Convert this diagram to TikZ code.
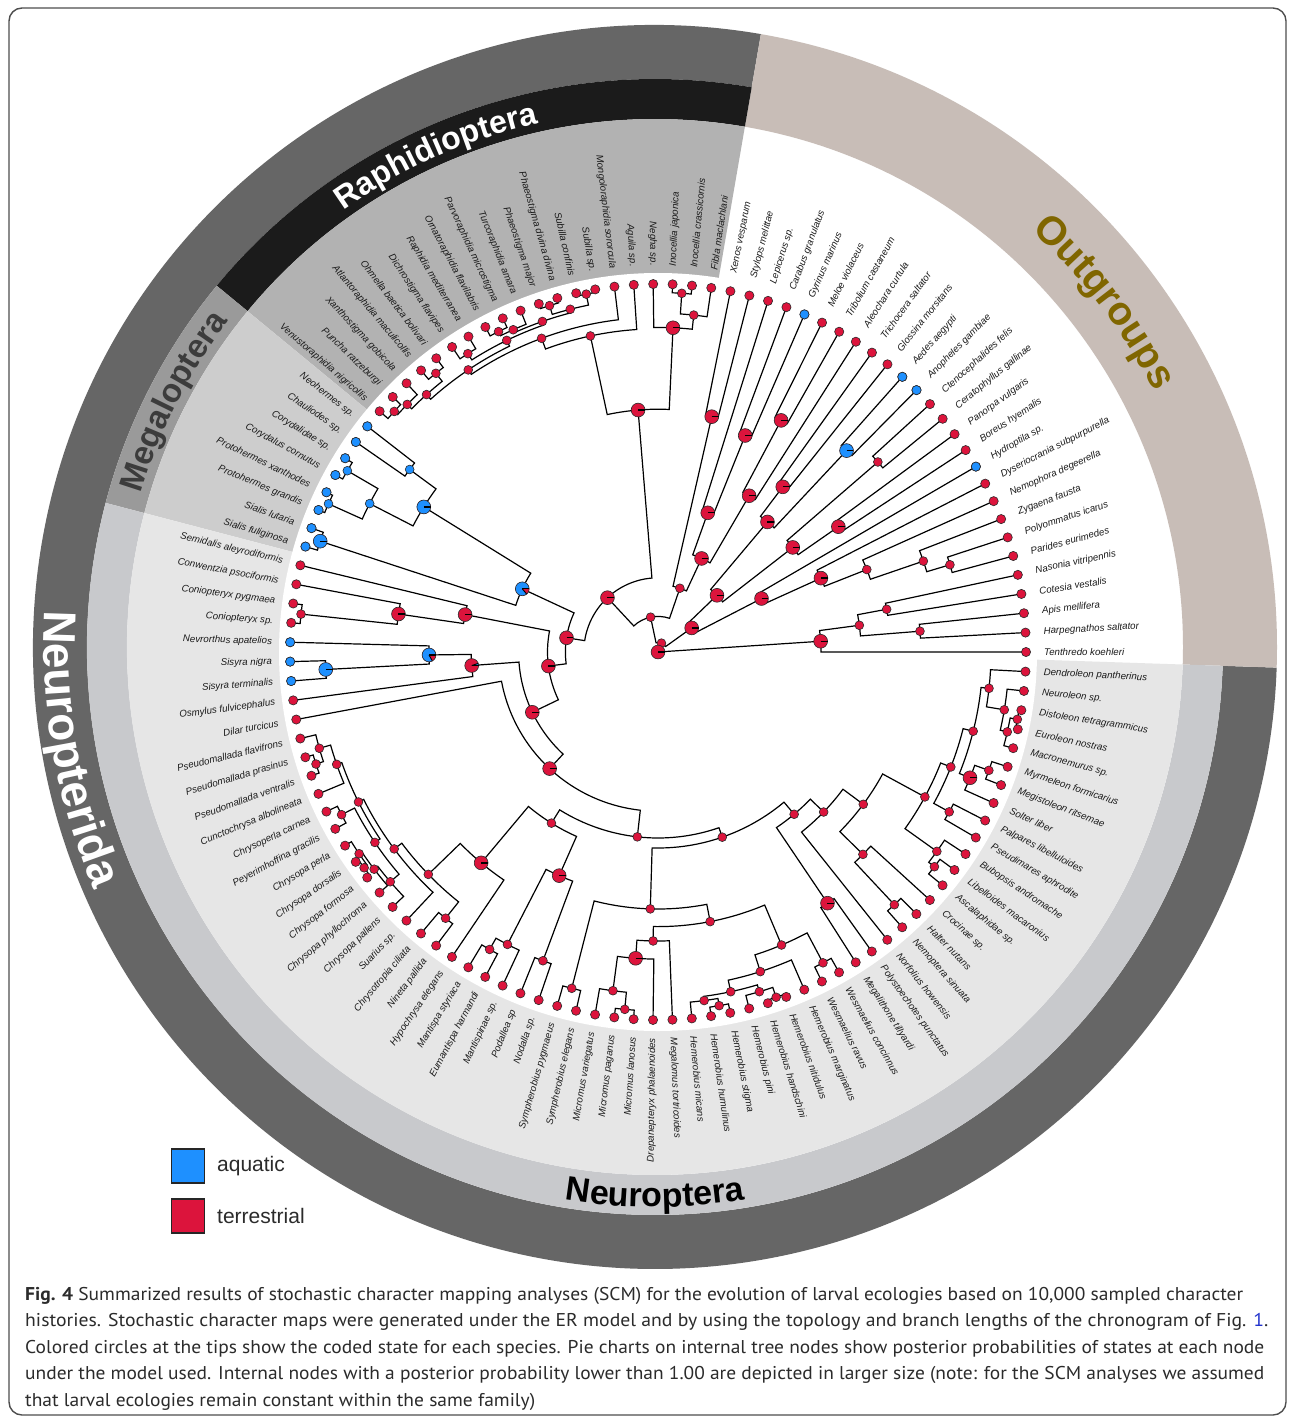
\documentclass[tikz,border=0pt]{standalone}
\usepackage{fontspec}
\usepackage{graphicx}
\setmainfont{Liberation Sans}
\newfontfamily\capfont{PT Sans}
\usetikzlibrary{decorations.text}
\definecolor{aq}{HTML}{1E90FF}
\definecolor{te}{HTML}{DC143C}
\definecolor{dotline}{HTML}{2A2A2A}
\definecolor{ringdark}{HTML}{666666}
\definecolor{ringblack}{HTML}{1B1B1B}
\definecolor{ringmega}{HTML}{9A9A9A}
\definecolor{ringneur}{HTML}{C8C9CC}
\definecolor{bgraph}{HTML}{B2B2B2}
\definecolor{bgmega}{HTML}{CDCDCD}
\definecolor{bgneur}{HTML}{E6E6E6}
\definecolor{ogtan}{HTML}{C8BDB7}
\definecolor{ogtext}{HTML}{806600}
\definecolor{megatext}{HTML}{3C3C3C}
\definecolor{labtxt}{HTML}{1A1A1A}
\definecolor{captxt}{HTML}{2B2B2B}
\definecolor{linkblue}{HTML}{2233CC}
\definecolor{framec}{HTML}{4D4D4D}

\gdef\dotlist{}
\newcommand\setnode[3]{\expandafter\xdef\csname na@#1\endcsname{#2}\expandafter\xdef\csname nr@#1\endcsname{#3}}
\newcommand\piedot[4]{%
  \pgfmathsetmacro\px{#2*cos(#1)}%
  \pgfmathsetmacro\py{#2*sin(#1)}%
  \if s#3%
    \ifdim #4pt>0.5pt\def\pc{aq}\else\def\pc{te}\fi
    \filldraw[fill=\pc,draw=dotline,line width=0.6pt] (\px,\py) circle[radius=4.4];%
  \else
    \fill[te] (\px,\py) circle[radius=6.9];%
    \ifdim #4pt>0.001pt
      \pgfmathsetmacro\pe{#4*360}%
      \fill[aq] (\px,\py) -- ++(0:6.9) arc[start angle=0,end angle=\pe,radius=6.9] -- cycle;%
      \ifdim #4pt<0.999pt \draw[black,line width=0.9pt] (\px,\py) -- ++(\pe:6.9);\fi
    \fi
    \draw[dotline,line width=0.6pt] (\px,\py) circle[radius=6.9];%
    \draw[black,line width=1.3pt] (\px,\py) -- ++(0:6.9);%
  \fi}
\newcommand\tipdot[2]{\filldraw[fill=#2,draw=dotline,line width=0.6pt] (#1:368) circle[radius=4.6];}
\newcommand\Nd[6]{%
  \edef\aA{\csname na@#3\endcsname}\edef\rA{\csname nr@#3\endcsname}%
  \edef\aB{\csname na@#4\endcsname}\edef\rB{\csname nr@#4\endcsname}%
  \pgfmathsetmacro\aM{(\aA+\aB)/2}%
  \draw[br] (\aA:\rA) -- (\aA:#2) arc[start angle=\aA,end angle=\aB,radius=#2] -- (\aB:\rB);%
  \setnode{#1}{\aM}{#2}%
  \xdef\dotlist{\unexpanded\expandafter{\dotlist}\noexpand\piedot{\aM}{#2}{#5}{#6}}}
\newcommand\Tip[2]{\pgfmathsetmacro\ta{#1*3.025}\setnode{#1}{\ta}{368}%
  \xdef\dotlist{\unexpanded\expandafter{\dotlist}\noexpand\tipdot{\ta}{#2}}}
\newcommand\Lb[2]{\pgfmathsetmacro\la{#1*3.025}\pgfmathtruncatemacro\lf{(\la>90)&&(\la<270)}%
  \ifnum\lf=1 \pgfmathsetmacro\lr{\la-180}\node[lab,anchor=east,rotate=\lr] (lab#1) at (\la:386) {#2};%
  \else \node[lab,anchor=west,rotate=\la] (lab#1) at (\la:386) {#2};\fi}
\newcommand\annsec[5]{\fill[#1] (#4:#3) arc[start angle=#4,end angle=#5,radius=#3] -- (#5:#2) arc[start angle=#5,end angle=#4,radius=#2] -- cycle;}

\begin{document}
\begin{tikzpicture}[x=1pt,y=1pt,
  br/.style={line width=1.2pt,line cap=rect,line join=miter},
  lab/.style={font=\fontsize{9.7}{10}\selectfont\itshape,text=labtxt,inner sep=0pt}]
\useasboundingbox (0,0) rectangle (1295,-1420);
\fill[white] (0,0) rectangle (1295,-1420);
\draw[framec,line width=1.4pt,rounded corners=13pt] (9,-8) rectangle (1286,-1415);

% rings and clade backgrounds
\begin{scope}[shift={(655,-647)}]
  \annsec{ringdark}{568}{622}{80.2}{358.1}
  \annsec{ogtan}{528}{622}{-1.9}{80.2}
  \annsec{ringblack}{528}{568}{80.2}{140.5}
  \annsec{ringmega}{528}{568}{140.5}{165.3}
  \annsec{ringneur}{528}{568}{165.3}{358.1}
  \annsec{bgraph}{5}{528}{80.2}{140.5}
  \annsec{bgmega}{5}{528}{140.5}{165.3}
  \annsec{bgneur}{5}{528}{165.3}{358.1}
  \path[decorate,decoration={text along path,text align=center,text color=white,
    text={|\fontsize{46}{46}\selectfont\bfseries|Neuropterida}}]
    (160:611) arc[start angle=160,end angle=220,radius=611];
  \path[decorate,decoration={text along path,text align=center,text color=black,
    text={|\fontsize{34}{34}\selectfont\bfseries|Neuroptera}}]
    (240:560) arc[start angle=240,end angle=300,radius=560];
  \path[decorate,decoration={text along path,text align=center,text color=megatext,
    text={|\fontsize{33}{33}\selectfont\bfseries|Megaloptera}}]
    (183:536.5) arc[start angle=183,end angle=123,radius=536.5];
  \path[decorate,decoration={text along path,text align=center,text color=white,
    text={|\fontsize{32}{32}\selectfont\bfseries|Raphidioptera}}]
    (150:536.5) arc[start angle=150,end angle=78,radius=536.5];
  \path[decorate,decoration={text along path,text align=center,text color=ogtext,
    text={|\fontsize{40}{40}\selectfont\bfseries|Outgroups}}]
    (72:561) arc[start angle=72,end angle=3,radius=561];
\end{scope}
\fill[white] (658,-652) circle[radius=379];

% tree
\begin{scope}[shift={(658,-652)}]
\foreach \i in {0,...,118}{\Tip{\i}{te}}
\foreach \i in {10,15,16,22,47,48,49,50,51,52,53,54,59,60,61}{\Tip{\i}{aq}}
% outgroups
\Nd{h12}{262.8}{1}{2}{s}{0}
\Nd{h34}{232.6}{3}{4}{s}{0}
\Nd{h14}{203.1}{h12}{h34}{s}{0}
\Nd{hym}{163}{0}{h14}{b}{0}
\Nd{l56}{304.7}{5}{6}{s}{0}
\Nd{l7}{280.5}{l56}{7}{s}{0}
\Nd{l8}{224.5}{l7}{8}{s}{0}
\Nd{lep}{178.9}{l8}{9}{b}{0}
\Nd{amph}{116.5}{lep}{10}{b}{0}
\Nd{mec}{219.6}{11}{12}{b}{0}
\Nd{flea}{290.6}{13}{14}{s}{0}
\Nd{mecsi}{170.6}{mec}{flea}{b}{0}
\Nd{mosq}{275.9}{15}{16}{b}{1}
\Nd{dgt}{207}{17}{18}{b}{0}
\Nd{dip}{170}{mosq}{dgt}{b}{0}
\Nd{antl}{81.8}{mecsi}{dip}{b}{0}
\Nd{mecop}{41.4}{amph}{antl}{b}{0}
\Nd{ctm}{262.3}{20}{21}{b}{0}
\Nd{poly}{180.9}{19}{ctm}{b}{0}
\Nd{adeph}{233.4}{22}{23}{b}{0}
\Nd{myxad}{147.8}{adeph}{24}{b}{0}
\Nd{col}{103.2}{poly}{myxad}{b}{0}
\Nd{strep}{241.4}{25}{26}{b}{0}
\Nd{colp}{67.4}{col}{strep}{s}{0}
% Raphidioptera
\Nd{i2829}{359.5}{28}{29}{s}{0}
\Nd{i27}{338.8}{27}{i2829}{s}{0}
\Nd{ino}{324.6}{i27}{30}{b}{0}
\Nd{r3334}{365}{33}{34}{s}{0}
\Nd{r3536}{363}{35}{36}{s}{0}
\Nd{r3336}{353.8}{r3334}{r3536}{s}{0}
\Nd{r3839}{357.9}{38}{39}{s}{0}
\Nd{r3739}{353.3}{37}{r3839}{s}{0}
\Nd{rZ}{350.2}{r3336}{r3739}{s}{0}
\Nd{r4041}{353.8}{40}{41}{s}{0}
\Nd{rW}{346.4}{rZ}{r4041}{s}{0}
\Nd{r4243}{356.4}{42}{43}{s}{0}
\Nd{r4546}{357}{45}{46}{s}{0}
\Nd{r4446}{352.4}{44}{r4546}{s}{0}
\Nd{r4246}{346.2}{r4243}{r4446}{s}{0}
\Nd{rY}{340}{rW}{r4246}{s}{0}
\Nd{rX}{334.6}{32}{rY}{s}{0}
\Nd{raphid}{323.2}{31}{rX}{s}{0}
\Nd{raph}{242.8}{ino}{raphid}{b}{0}
% Megaloptera
\Nd{m4748}{308.2}{47}{48}{s}{1}
\Nd{m4950}{359.7}{49}{50}{s}{1}
\Nd{m5152}{361.3}{51}{52}{s}{1}
\Nd{m4952}{324.3}{m4950}{m5152}{s}{1}
\Nd{cory}{275.5}{m4748}{m4952}{b}{1}
\Nd{sial}{355.5}{53}{54}{b}{1}
\Nd{mega}{149.7}{cory}{sial}{b}{0.86}
% Neuroptera
\Nd{c5758}{359}{57}{58}{s}{0}
\Nd{nb}{262.3}{56}{c5758}{b}{0}
\Nd{na}{196.5}{55}{nb}{b}{0}
\Nd{s6061}{332.7}{60}{61}{b}{1}
\Nd{nf}{229}{59}{s6061}{b}{0.83}
\Nd{ne}{186.8}{nf}{62}{b}{0.05}
\Nd{p6566}{359.9}{65}{66}{s}{0}
\Nd{p64}{352.1}{64}{p6566}{s}{0}
\Nd{p67}{340.4}{p64}{67}{s}{0}
\Nd{c6869}{355.8}{68}{69}{s}{0}
\Nd{g7172}{364.6}{71}{72}{s}{0}
\Nd{g70}{360.6}{70}{g7172}{s}{0}
\Nd{g73}{357.4}{g70}{73}{s}{0}
\Nd{g74}{352.8}{g73}{74}{s}{0}
\Nd{cC}{341.2}{c6869}{g74}{s}{0}
\Nd{cB}{335}{p67}{cC}{s}{0}
\Nd{cA}{329.2}{cB}{75}{s}{0}
\Nd{c7677}{340.6}{76}{77}{s}{0}
\Nd{cA2}{319.7}{cA}{c7677}{s}{0}
\Nd{chrys}{275.2}{cA2}{78}{b}{0}
\Nd{m7980}{341.8}{79}{80}{s}{0}
\Nd{m81}{328.9}{m7980}{81}{s}{0}
\Nd{b8283}{329.5}{82}{83}{s}{0}
\Nd{mant}{244.5}{m81}{b8283}{b}{0}
\Nd{chma}{201.6}{chrys}{mant}{s}{0}
\Nd{s8485}{347.2}{84}{85}{s}{0}
\Nd{h8788}{358.9}{87}{88}{s}{0}
\Nd{hS}{341.7}{86}{h8788}{s}{0}
\Nd{hR}{307.1}{hS}{89}{b}{0}
\Nd{hQ}{289}{hR}{90}{s}{0}
\Nd{h9293}{358.9}{92}{93}{s}{0}
\Nd{h91}{351.6}{91}{h9293}{s}{0}
\Nd{h9596}{364.9}{95}{96}{s}{0}
\Nd{h94}{354.5}{94}{h9596}{s}{0}
\Nd{hW}{347.4}{h91}{h94}{s}{0}
\Nd{hU}{335.6}{hW}{97}{s}{0}
\Nd{w9899}{351.9}{98}{99}{s}{0}
\Nd{hT}{318}{hU}{w9899}{s}{0}
\Nd{hP}{274.6}{hQ}{hT}{s}{0}
\Nd{hem}{257}{s8485}{hP}{s}{0}
\Nd{ith}{303}{100}{101}{b}{0}
\Nd{n0304}{346}{103}{104}{s}{0}
\Nd{nemop}{288}{n0304}{105}{s}{0}
\Nd{a0607}{350}{106}{107}{s}{0}
\Nd{asc}{342.8}{a0607}{108}{s}{0}
\Nd{zc}{332.2}{109}{110}{s}{0}
\Nd{z1213}{351.4}{112}{113}{s}{0}
\Nd{ze}{336.4}{111}{z1213}{b}{0}
\Nd{z1516}{365.6}{115}{116}{s}{0}
\Nd{z14}{358.3}{114}{z1516}{s}{0}
\Nd{z17}{351.1}{z14}{117}{s}{0}
\Nd{zf}{333}{z17}{118}{s}{0}
\Nd{zd}{325}{ze}{zf}{s}{0}
\Nd{zb}{314.6}{zc}{zd}{s}{0}
\Nd{zz}{303.7}{asc}{zb}{s}{0}
\Nd{myrm}{255.6}{nemop}{zz}{s}{0}
\Nd{nymph}{230.3}{102}{myrm}{s}{0}
\Nd{ithm}{211.8}{ith}{nymph}{s}{0}
\Nd{nn}{196}{hem}{ithm}{s}{0}
\Nd{nm}{186}{chma}{nn}{s}{0}
\Nd{ng}{159.2}{63}{nm}{b}{0}
\Nd{nd}{139.4}{ne}{ng}{b}{0}
\Nd{nc}{110.5}{na}{nd}{b}{0}
\Nd{nh}{92.6}{mega}{nc}{b}{0}
\Nd{ni}{74.2}{raph}{nh}{b}{0}
\Nd{nj}{35.6}{colp}{ni}{s}{0}
\Nd{nl}{9.5}{mecop}{nj}{s}{0}
% root
\draw[br] (0,0) -- (\csname na@hym\endcsname:\csname nr@hym\endcsname);
\draw[br] (0,0) -- (\csname na@nl\endcsname:\csname nr@nl\endcsname);
\dotlist
\piedot{0}{0}{b}{0}

% labels
\Lb{0}{Tenthredo koehleri}
\Lb{1}{Harpegnathos saltator}
\Lb{2}{Apis mellifera}
\Lb{3}{Cotesia vestalis}
\Lb{4}{Nasonia vitripennis}
\Lb{5}{Parides eurimedes}
\Lb{6}{Polyommatus icarus}
\Lb{7}{Zygaena fausta}
\Lb{8}{Nemophora degeerella}
\Lb{9}{Dyseriocrania subpurpurella}
\Lb{10}{Hydroptila sp.}
\Lb{11}{Boreus hyemalis}
\Lb{12}{Panorpa vulgaris}
\Lb{13}{Ceratophyllus gallinae}
\Lb{14}{Ctenocephalides felis}
\Lb{15}{Anopheles gambiae}
\Lb{16}{Aedes aegypti}
\Lb{17}{Glossina morsitans}
\Lb{18}{Trichocera saltator}
\Lb{19}{Aleochara curtula}
\Lb{20}{Tribolium castaneum}
\Lb{21}{Meloe violaceus}
\Lb{22}{Gyrinus marinus}
\Lb{23}{Carabus granulatus}
\Lb{24}{Lepicerus sp.}
\Lb{25}{Stylops melittae}
\Lb{26}{Xenos vesparum}
\Lb{27}{Fibla maclachlani}
\Lb{28}{Inocellia crassicornis}
\Lb{29}{Inocellia japonica}
\Lb{30}{Negha sp.}
\Lb{31}{Aguila sp.}
\Lb{32}{Mongoloraphidia sororcula}
\Lb{33}{Subilla sp.}
\Lb{34}{Subilla confinis}
\Lb{35}{Phaeostigma divina divina}
\Lb{36}{Phaeostigma major}
\Lb{37}{Turcoraphidia amara}
\Lb{38}{Parvoraphidia microstigma}
\Lb{39}{Ornatoraphidia flavilabris}
\Lb{40}{Raphidia mediterranea}
\Lb{41}{Dichrostigma flavipes}
\Lb{42}{Ohmella baetica bolivari}
\Lb{43}{Atlantoraphidia maculicollis}
\Lb{44}{Xanthostigma gobicola}
\Lb{45}{Puncha ratzeburgi}
\Lb{46}{Venustoraphidia nigricollis}
\Lb{47}{Neohermes sp.}
\Lb{48}{Chauliodes sp.}
\Lb{49}{Corydalidae sp.}
\Lb{50}{Corydalus cornutus}
\Lb{51}{Protohermes xanthodes}
\Lb{52}{Protohermes grandis}
\Lb{53}{Sialis lutaria}
\Lb{54}{Sialis fuliginosa}
\Lb{55}{Semidalis aleyrodiformis}
\Lb{56}{Conwentzia psociformis}
\Lb{57}{Coniopteryx pygmaea}
\Lb{58}{Coniopteryx sp.}
\Lb{59}{Nevrorthus apatelios}
\Lb{60}{Sisyra nigra}
\Lb{61}{Sisyra terminalis}
\Lb{62}{Osmylus fulvicephalus}
\Lb{63}{Dilar turcicus}
\Lb{64}{Pseudomallada flavifrons}
\Lb{65}{Pseudomallada prasinus}
\Lb{66}{Pseudomallada ventralis}
\Lb{67}{Cunctochrysa albolineata}
\Lb{68}{Chrysoperla carnea}
\Lb{69}{Peyerimhoffina gracilis}
\Lb{70}{Chrysopa perla}
\Lb{71}{Chrysopa dorsalis}
\Lb{72}{Chrysopa formosa}
\Lb{73}{Chrysopa phyllochroma}
\Lb{74}{Chrysopa pallens}
\Lb{75}{Suarius sp.}
\Lb{76}{Chrysotropia ciliata}
\Lb{77}{Nineta pallida}
\Lb{78}{Hypochrysa elegans}
\Lb{79}{Mantispa styriaca}
\Lb{80}{Eumantispa harmandi}
\Lb{81}{Mantispinae sp.}
\Lb{82}{Podallea sp}
\Lb{83}{Nodalla sp.}
\Lb{84}{Sympherobius pygmaeus}
\Lb{85}{Sympherobius elegans}
\Lb{86}{Micromus variegatus}
\Lb{87}{Micromus paganus}
\Lb{88}{Micromus lanosus}
\Lb{89}{Drepanepteryx phalaenoides}
\Lb{90}{Megalomus tortricoides}
\Lb{91}{Hemerobius micans}
\Lb{92}{Hemerobius humulinus}
\Lb{93}{Hemerobius stigma}
\Lb{94}{Hemerobius pini}
\Lb{95}{Hemerobius handschini}
\Lb{96}{Hemerobius nitidulus}
\Lb{97}{Hemerobius marginatus}
\Lb{98}{Wesmaelius ravus}
\Lb{99}{Wesmaelius concinnus}
\Lb{100}{Megalithone tillyardi}
\Lb{101}{Polystoechotes punctatus}
\Lb{102}{Norfolius howensis}
\Lb{103}{Nemoptera sinuata}
\Lb{104}{Halter nutans}
\Lb{105}{Crocinae sp.}
\Lb{106}{Ascalaphidae sp.}
\Lb{107}{Libelloides macaronius}
\Lb{108}{Bubopsis andromache}
\Lb{109}{Pseudimares aphrodite}
\Lb{110}{Palpares libelluloides}
\Lb{111}{Solter liber}
\Lb{112}{Megistoleon ritsemae}
\Lb{113}{Myrmeleon formicarius}
\Lb{114}{Macronemurus sp.}
\Lb{115}{Euroleon nostras}
\Lb{116}{Distoleon tetragrammicus}
\Lb{117}{Neuroleon sp.}
\Lb{118}{Dendroleon pantherinus}
\end{scope}

% legend
\filldraw[fill=aq,draw=black!85,line width=1.5pt] (171.5,-1149) rectangle (204.5,-1183);
\node[anchor=west,inner sep=0pt,font=\fontsize{21}{21}\selectfont,text=captxt] (legaq) at (217,-1166) {aquatic};
\filldraw[fill=te,draw=black!85,line width=1.5pt] (171.5,-1199) rectangle (204.5,-1233);
\node[anchor=west,inner sep=0pt,font=\fontsize{21}{21}\selectfont,text=captxt] (legte) at (217,-1216) {terrestrial};

% caption
\begin{scope}[every node/.style={anchor=base west,inner sep=0pt,text=captxt}]
\node (cap1) at (25,-1300) {\capfont\fontsize{18.5}{18.5}\selectfont\resizebox{1218pt}{\height}{\textbf{Fig. 4} Summarized results of stochastic character mapping analyses (SCM) for the evolution of larval ecologies based on 10,000 sampled character}};
\node (cap2) at (25,-1326.5) {\capfont\fontsize{18.5}{18.5}\selectfont\resizebox{1243pt}{\height}{histories. Stochastic character maps were generated under the ER model and by using the topology and branch lengths of the chronogram of Fig. \textcolor{linkblue}{1}.}};
\node (cap3) at (25,-1353) {\capfont\fontsize{18.5}{18.5}\selectfont\resizebox{1239pt}{\height}{Colored circles at the tips show the coded state for each species. Pie charts on internal tree nodes show posterior probabilities of states at each node}};
\node (cap4) at (25,-1379.5) {\capfont\fontsize{18.5}{18.5}\selectfont\resizebox{1239pt}{\height}{under the model used. Internal nodes with a posterior probability lower than 1.00 are depicted in larger size (note: for the SCM analyses we assumed}};
\node (cap5) at (25,-1406) {\capfont\fontsize{18.5}{18.5}\selectfont\resizebox{510pt}{\height}{that larval ecologies remain constant within the same family)}};
\end{scope}
\end{tikzpicture}
\end{document}
